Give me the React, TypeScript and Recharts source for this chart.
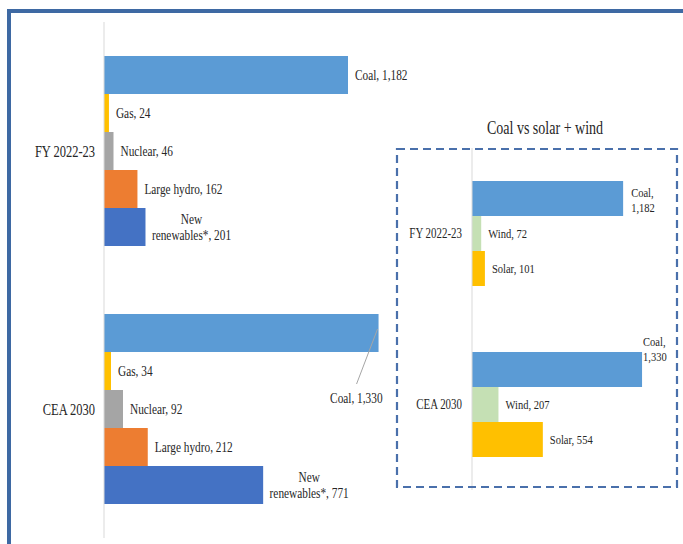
import React from "react";
import { Bar, BarChart, LabelList, XAxis, YAxis } from "recharts";

// generation by source, billion units
const periods = ["FY 2022-23", "CEA 2030"];
const coal = [1182, 1330];
const gas = [24, 34];
const nuclear = [46, 92];
const largeHydro = [162, 212];
const newRenewables = [201, 771];
const wind = [72, 207];
const solar = [101, 554];

const mixData = periods.map((period, i) => ({
  period,
  coal: coal[i],
  gas: gas[i],
  nuclear: nuclear[i],
  hydro: largeHydro[i],
  renew: newRenewables[i],
}));

const focusData = periods.map((period, i) => ({
  period,
  coal: coal[i],
  wind: wind[i],
  solar: solar[i],
}));

const SERIF = '"Liberation Serif", "Times New Roman", serif';
const INK = "#262626";
const SX = 0.78; // source text is horizontally squeezed

const fmt = (v: number) => Number(v).toLocaleString("en-US");

function Txt({ x, y, size, anchor = "start", children }: any) {
  return (
    <text
      transform={`translate(${x} ${y}) scale(${SX} 1)`}
      textAnchor={anchor}
      dominantBaseline="central"
      fontFamily={SERIF}
      fontSize={size}
      fill={INK}
    >
      {children}
    </text>
  );
}

// label props differ a bit between recharts versions
const box = (p: any) => {
  const vb = p.viewBox && p.viewBox.width != null ? p.viewBox : p;
  return { x: vb.x, y: vb.y, w: vb.width, h: vb.height };
};

const mixLabel = (name: string) => (p: any) => {
  const { x, y, w, h } = box(p);
  const end = x + w;
  const cy = y + h / 2;
  const text = `${name}, ${fmt(p.value)}`;
  if (name === "Coal" && (p.index ?? coal.indexOf(p.value)) === 1) {
    return (
      <g>
        <line x1={end - 1} y1={cy - 4} x2={end - 22} y2={cy + 51} stroke="#a6a6a6" strokeWidth={1} />
        <Txt x={end + 4} y={cy + 65} size={14.5} anchor="end">{text}</Txt>
      </g>
    );
  }
  return <Txt x={end + 7} y={cy} size={14.5}>{text}</Txt>;
};

const renewLabel = (p: any) => {
  const { x, y, w, h } = box(p);
  const end = x + w;
  const cy = y + h / 2;
  return (
    <g>
      <Txt x={end + 46} y={cy - 8} size={14.5} anchor="middle">New</Txt>
      <Txt x={end + 46} y={cy + 8} size={14.5} anchor="middle">{`renewables*, ${fmt(p.value)}`}</Txt>
    </g>
  );
};

const focusCoalLabel = (p: any) => {
  const { x, y, w, h } = box(p);
  const end = x + w;
  const cy = y + h / 2;
  const second = (p.index ?? coal.indexOf(p.value)) === 1;
  const lx = second ? end + 1 : end + 8;
  const y1 = second ? cy - 28 : cy - 6;
  return (
    <g>
      <Txt x={lx} y={y1} size={13.5}>Coal,</Txt>
      <Txt x={lx} y={y1 + 15} size={13.5}>{fmt(p.value)}</Txt>
    </g>
  );
};

const focusLabel = (name: string) => (p: any) => {
  const { x, y, w, h } = box(p);
  return <Txt x={x + w + 7} y={y + h / 2} size={13.5}>{`${name}, ${fmt(p.value)}`}</Txt>;
};

const catTick = (size: number) => (p: any) => (
  <Txt x={p.x} y={p.y} size={size} anchor="end">{p.payload.value}</Txt>
);

export default function App() {
  return (
    <div style={{ position: "absolute", left: 0, top: 0, width: 683, height: 544, background: "#fff", overflow: "hidden" }}>
      <div
        style={{
          position: "absolute",
          left: 7,
          top: 9,
          width: 700,
          height: 560,
          borderTop: "4px solid #3e69a3",
          borderLeft: "4px solid #3e69a3",
          boxSizing: "border-box",
        }}
      />

      <div style={{ position: "absolute", left: 0, top: 0 }}>
        <BarChart
          width={423}
          height={544}
          data={mixData}
          layout="vertical"
          margin={{ top: 22, right: 30, bottom: 6, left: 0 }}
          barCategoryGap={34}
          barGap={0}
        >
          <XAxis type="number" domain={[0, 1400]} hide />
          <YAxis
            type="category"
            dataKey="period"
            width={104}
            axisLine={{ stroke: "#d9d9d9" }}
            tickLine={false}
            tickMargin={3}
            tick={catTick(16)}
          />
          <Bar dataKey="coal" fill="#5b9bd5" isAnimationActive={false}>
            <LabelList dataKey="coal" content={mixLabel("Coal")} />
          </Bar>
          <Bar dataKey="gas" fill="#ffc000" isAnimationActive={false}>
            <LabelList dataKey="gas" content={mixLabel("Gas")} />
          </Bar>
          <Bar dataKey="nuclear" fill="#a5a5a5" isAnimationActive={false}>
            <LabelList dataKey="nuclear" content={mixLabel("Nuclear")} />
          </Bar>
          <Bar dataKey="hydro" fill="#ed7d31" isAnimationActive={false}>
            <LabelList dataKey="hydro" content={mixLabel("Large hydro")} />
          </Bar>
          <Bar dataKey="renew" fill="#4472c4" isAnimationActive={false}>
            <LabelList dataKey="renew" content={renewLabel} />
          </Bar>
        </BarChart>
      </div>

      <div style={{ position: "absolute", left: 396, top: 140 }}>
        <BarChart
          width={287}
          height={360}
          data={focusData}
          layout="vertical"
          margin={{ top: 8, right: 32, bottom: 10, left: 0 }}
          barCategoryGap={33}
          barGap={0}
        >
          <XAxis type="number" domain={[0, 1400]} hide />
          <YAxis
            type="category"
            dataKey="period"
            width={76}
            axisLine={{ stroke: "#d9d9d9" }}
            tickLine={false}
            tickMargin={4}
            tick={catTick(14)}
          />
          <Bar dataKey="coal" fill="#5b9bd5" isAnimationActive={false}>
            <LabelList dataKey="coal" content={focusCoalLabel} />
          </Bar>
          <Bar dataKey="wind" fill="#c5e0b4" isAnimationActive={false}>
            <LabelList dataKey="wind" content={focusLabel("Wind")} />
          </Bar>
          <Bar dataKey="solar" fill="#ffc000" isAnimationActive={false}>
            <LabelList dataKey="solar" content={focusLabel("Solar")} />
          </Bar>
        </BarChart>
      </div>

      <svg width={683} height={544} style={{ position: "absolute", left: 0, top: 0, pointerEvents: "none" }}>
        <rect x={397} y={149} width={280} height={338} fill="none" stroke="#4a70ab" strokeWidth={2.2} strokeDasharray="8 5" />
        <Txt x={545} y={128} size={18} anchor="middle">Coal vs solar + wind</Txt>
      </svg>
    </div>
  );
}
